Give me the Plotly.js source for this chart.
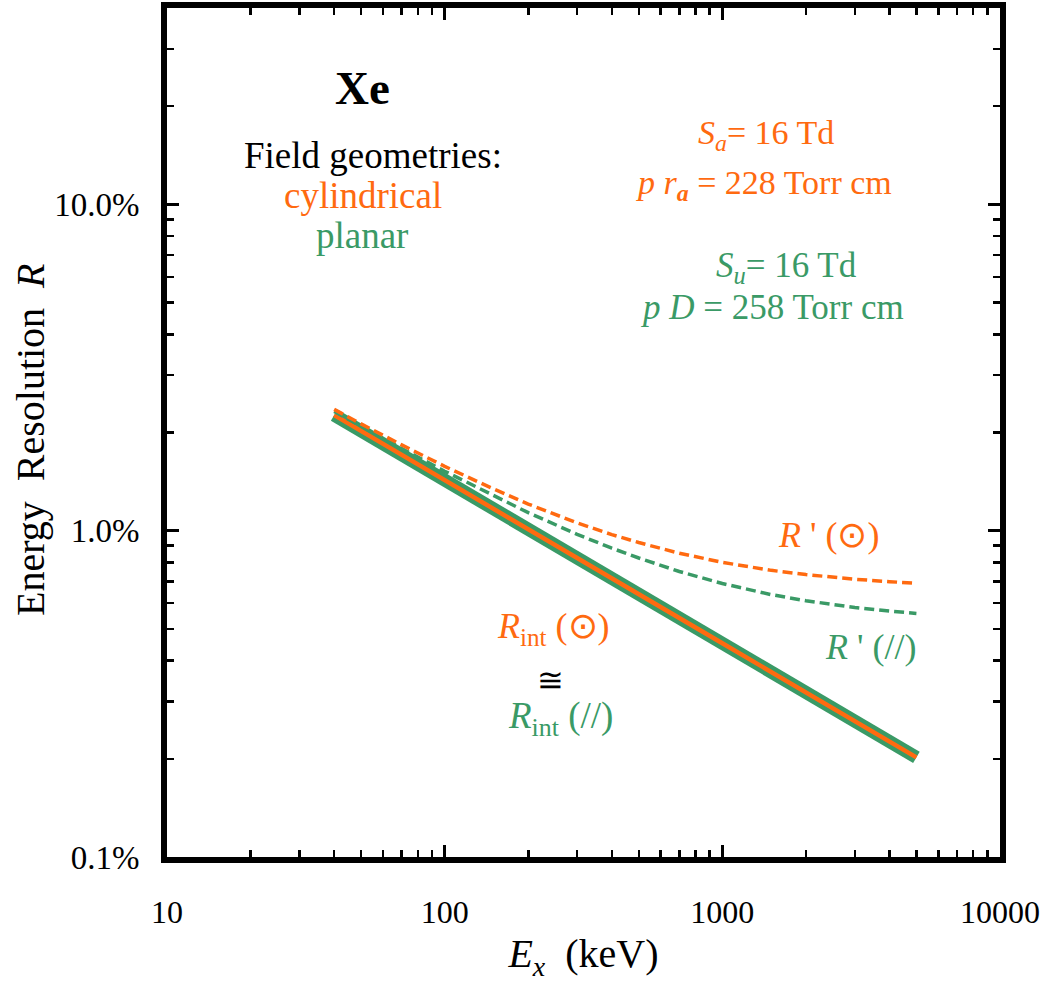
<!DOCTYPE html>
<html>
<head>
<meta charset="utf-8">
<script src="https://cdn.plot.ly/plotly-3.0.1.min.js"></script>
<style>html,body{margin:0;padding:0;background:#fff;}</style>
</head>
<body>
<div id="chart" style="width:1050px;height:982px;"></div>
<script>
// Photon energy (keV)
const energy = [40, 50, 70, 100, 150, 200, 300, 400, 500, 700, 1000, 1500, 2000, 3000, 4000, 5000];
// Intrinsic resolution R_int (%) — cylindrical and planar nearly identical
const rIntCyl = [2.26, 2.02, 1.71, 1.43, 1.17, 1.01, 0.825, 0.715, 0.64, 0.54, 0.452, 0.369, 0.32, 0.261, 0.226, 0.202];
const rIntPlan = [2.26, 2.02, 1.71, 1.43, 1.17, 1.01, 0.825, 0.715, 0.64, 0.54, 0.452, 0.369, 0.32, 0.261, 0.226, 0.202];
// Total resolution R' (%)
const rPrimeCyl = [2.355, 2.125, 1.833, 1.575, 1.343, 1.207, 1.057, 0.973, 0.92, 0.853, 0.80, 0.756, 0.734, 0.71, 0.698, 0.69];
const rPrimePlan = [2.319, 2.086, 1.787, 1.522, 1.28, 1.136, 0.975, 0.884, 0.825, 0.75, 0.689, 0.637, 0.61, 0.582, 0.567, 0.558];
// Axis ticks
const xTickVals = [10, 100, 1000, 10000];
const xTickText = ['10', '100', '1000', '10000'];
const yTickVals = [0.1, 1, 10];
const yTickText = ['0.1%', '1.0%', '10.0%'];

const ORANGE = '#FF6A10';
const GREEN = '#3A9A66';
const FONT = "'Liberation Serif', 'Times New Roman', serif";

function minorLog(lo, hi) {
  const v = [];
  for (let d = lo; d < hi; d *= 10) for (let k = 2; k <= 9; k++) v.push(d * k);
  return v;
}

const traces = [
  {x: energy, y: rIntPlan, mode: 'lines', name: 'R_int (//)', line: {color: GREEN, width: 13}},
  {x: energy, y: rIntCyl, mode: 'lines', name: 'R_int (⊙)', line: {color: ORANGE, width: 4.5}},
  {x: energy, y: rPrimePlan, mode: 'lines', name: "R' (//)", line: {color: GREEN, width: 3.5, dash: '10px,5px'}},
  {x: energy, y: rPrimeCyl, mode: 'lines', name: "R' (⊙)", line: {color: ORANGE, width: 3.5, dash: '10px,5px'}}
];

const L = 167, R = 1000, T = 8, B = 857;
function px(x) { return (x - L) / (R - L); }
function py(y) { return (B - y) / (B - T); }
function ann(text, x, y, color, size, extra) {
  return Object.assign({text: text, xref: 'paper', yref: 'paper', x: px(x), y: py(y),
    xanchor: 'center', yanchor: 'middle', showarrow: false,
    font: {family: FONT, size: size, color: color}}, extra || {});
}

const annotations = [
  ann('<b>Xe</b>', 362, 88, '#000', 47),
  ann('Field geometries:', 373, 155, '#000', 37),
  ann('cylindrical', 363, 195, ORANGE, 37),
  ann('planar', 362, 235, GREEN, 37),
  ann('<i>S<sub>a</sub></i>= 16 Td', 766, 135, ORANGE, 34),
  ann('<i>p r<sub><b>a</b></sub></i> = 228 Torr cm', 764, 185, ORANGE, 34),
  ann('<i>S<sub>u</sub></i>= 16 Td', 786, 268, GREEN, 35),
  ann('<i>p D</i> = 258 Torr cm', 772, 308, GREEN, 35),
  ann("<i>R</i> ' (⊙)", 828, 535, ORANGE, 36),
  ann("<i>R</i> ' (//)", 870, 647, GREEN, 36),
  ann('<i>R</i><sub>int</sub> (⊙)', 553, 628, ORANGE, 36),
  ann('≅', 550, 680, '#000', 32),
  ann('<i>R</i><sub>int</sub> (//)', 560, 718, GREEN, 37),
  ann('Energy  Resolution  <i>R</i>', 30, 440, '#000', 40, {textangle: -90})
];

const layout = {
  width: 1050, height: 982,
  margin: {l: L, r: 1050 - R, t: T, b: 982 - B},
  paper_bgcolor: '#fff', plot_bgcolor: '#fff',
  showlegend: false,
  font: {family: FONT, color: '#000'},
  xaxis: {
    type: 'log', range: [1, 4],
    tickvals: xTickVals, ticktext: xTickText,
    ticks: 'inside', ticklen: 12, tickwidth: 3, tickcolor: '#000',
    showline: true, linewidth: 6, linecolor: '#000', mirror: 'allticks',
    showgrid: false, zeroline: false,
    ticklabelstandoff: 22,
    tickfont: {family: FONT, size: 32, color: '#000'},
    minor: {tickvals: minorLog(10, 10000), ticks: 'inside', ticklen: 7, tickwidth: 2.5, tickcolor: '#000', showgrid: false},
    title: {text: '<i>E<sub>x</sub></i>  (keV)', font: {family: FONT, size: 40, color: '#000'}, standoff: 12}
  },
  yaxis: {
    type: 'log', range: [-1, Math.log10(40)],
    tickvals: yTickVals, ticktext: yTickText,
    ticks: 'inside', ticklen: 12, tickwidth: 3, tickcolor: '#000',
    showline: true, linewidth: 6, linecolor: '#000', mirror: 'allticks',
    showgrid: false, zeroline: false,
    ticklabelstandoff: 15,
    tickfont: {family: FONT, size: 33, color: '#000'},
    minor: {tickvals: minorLog(0.1, 40), ticks: 'inside', ticklen: 7, tickwidth: 2.5, tickcolor: '#000', showgrid: false}
  },
  annotations: annotations
};

Plotly.newPlot('chart', traces, layout, {displayModeBar: false, staticPlot: true});
</script>
</body>
</html>
